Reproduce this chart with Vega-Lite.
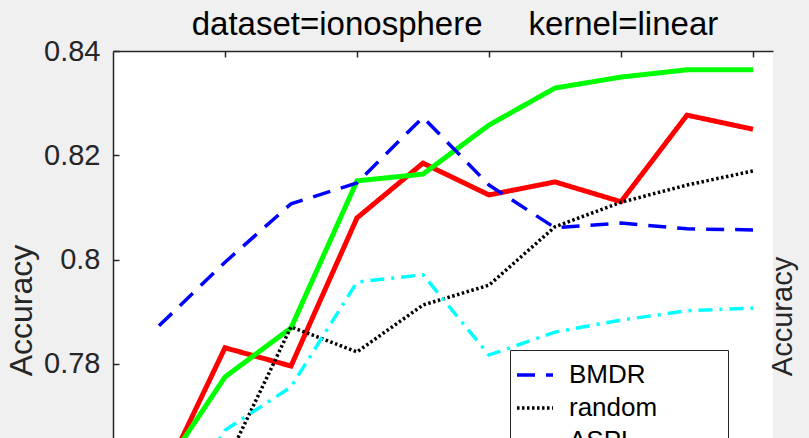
{
  "$schema": "https://vega.github.io/schema/vega-lite/v6.json",
  "width": 660,
  "height": 387,
  "autosize": {"type": "none"},
  "padding": {"left": 113, "top": 51, "right": 36, "bottom": 0},
  "background": "#f0f0f0",
  "title": {
    "text": "dataset=ionosphere\u00a0\u00a0\u00a0\u00a0 kernel=linear",
    "fontSize": 33,
    "fontWeight": "normal",
    "font": "Liberation Sans",
    "color": "#000000",
    "anchor": "middle",
    "dx": 12,
    "offset": -5
  },
  "data": {
    "values": [
      {"method": "BMDR", "x": 1, "acc": 0.7873},
      {"method": "BMDR", "x": 2, "acc": 0.7995},
      {"method": "BMDR", "x": 3, "acc": 0.8107},
      {"method": "BMDR", "x": 4, "acc": 0.8147},
      {"method": "BMDR", "x": 5, "acc": 0.8273},
      {"method": "BMDR", "x": 6, "acc": 0.8143},
      {"method": "BMDR", "x": 7, "acc": 0.8061},
      {"method": "BMDR", "x": 8, "acc": 0.8070},
      {"method": "BMDR", "x": 9, "acc": 0.8059},
      {"method": "BMDR", "x": 10, "acc": 0.8057},
      {"method": "random", "x": 1, "acc": 0.745},
      {"method": "random", "x": 2, "acc": 0.7606},
      {"method": "random", "x": 3, "acc": 0.7871},
      {"method": "random", "x": 4, "acc": 0.7823},
      {"method": "random", "x": 5, "acc": 0.7913},
      {"method": "random", "x": 6, "acc": 0.7951},
      {"method": "random", "x": 7, "acc": 0.8063},
      {"method": "random", "x": 8, "acc": 0.8110},
      {"method": "random", "x": 9, "acc": 0.8143},
      {"method": "random", "x": 10, "acc": 0.8170},
      {"method": "ASPL", "x": 1, "acc": 0.747},
      {"method": "ASPL", "x": 2, "acc": 0.7673},
      {"method": "ASPL", "x": 3, "acc": 0.7756},
      {"method": "ASPL", "x": 4, "acc": 0.7957},
      {"method": "ASPL", "x": 5, "acc": 0.7971},
      {"method": "ASPL", "x": 6, "acc": 0.7817},
      {"method": "ASPL", "x": 7, "acc": 0.7861},
      {"method": "ASPL", "x": 8, "acc": 0.7884},
      {"method": "ASPL", "x": 9, "acc": 0.7902},
      {"method": "ASPL", "x": 10, "acc": 0.7907},
      {"method": "Proposed (v1)", "x": 1, "acc": 0.7566},
      {"method": "Proposed (v1)", "x": 2, "acc": 0.7831},
      {"method": "Proposed (v1)", "x": 3, "acc": 0.7796},
      {"method": "Proposed (v1)", "x": 4, "acc": 0.8080},
      {"method": "Proposed (v1)", "x": 5, "acc": 0.8185},
      {"method": "Proposed (v1)", "x": 6, "acc": 0.8124},
      {"method": "Proposed (v1)", "x": 7, "acc": 0.8149},
      {"method": "Proposed (v1)", "x": 8, "acc": 0.8111},
      {"method": "Proposed (v1)", "x": 9, "acc": 0.8277},
      {"method": "Proposed (v1)", "x": 10, "acc": 0.8250},
      {"method": "Proposed (v2)", "x": 1, "acc": 0.7585},
      {"method": "Proposed (v2)", "x": 2, "acc": 0.7775},
      {"method": "Proposed (v2)", "x": 3, "acc": 0.7869},
      {"method": "Proposed (v2)", "x": 4, "acc": 0.8151},
      {"method": "Proposed (v2)", "x": 5, "acc": 0.8164},
      {"method": "Proposed (v2)", "x": 6, "acc": 0.8258},
      {"method": "Proposed (v2)", "x": 7, "acc": 0.8329},
      {"method": "Proposed (v2)", "x": 8, "acc": 0.8350},
      {"method": "Proposed (v2)", "x": 9, "acc": 0.8364},
      {"method": "Proposed (v2)", "x": 10, "acc": 0.8364}
    ]
  },
  "layer": [
    {
      "transform": [{"filter": "datum.method === 'Proposed (v1)' || datum.method === 'Proposed (v2)'"}],
      "mark": {"type": "line", "clip": true, "strokeWidth": 5},
      "encoding": {
        "x": {
          "field": "x", "type": "quantitative",
          "scale": {"domain": [0.303, 10.303], "nice": false, "zero": false},
          "axis": {"orient": "top", "values": [2, 4, 6, 8, 10], "labels": false, "title": null, "tickSize": -6, "tickWidth": 1.5, "domainWidth": 1.5, "grid": false}
        },
        "y": {
          "field": "acc", "type": "quantitative",
          "scale": {"domain": [0.7658, 0.84], "nice": false, "zero": false},
          "axis": {
            "orient": "left", "values": [0.78, 0.8, 0.82, 0.84], "format": "~g",
            "tickSize": -6, "tickWidth": 1.5, "domainWidth": 1.5, "grid": false,
            "labelFontSize": 29, "labelPadding": 19, "labelColor": "#262626",
            "title": "Accuracy", "titleFontSize": 32, "titleFontWeight": "normal", "titleColor": "#262626",
            "titleX": -75, "titleY": 259, "titleAngle": 270, "titleBaseline": "bottom", "titleAlign": "center"
          }
        },
        "color": {
          "field": "method", "type": "nominal",
          "scale": {"domain": ["BMDR", "random", "ASPL", "Proposed (v1)", "Proposed (v2)"], "range": ["#0000ff", "#000000", "#00ffff", "#ff0000", "#00ff00"]},
          "legend": {
            "orient": "none", "legendX": 397, "legendY": 299, "title": null,
            "symbolType": "stroke", "symbolSize": 1296, "symbolStrokeWidth": 3.5,
            "labelFontSize": 26, "labelColor": "#000000", "labelOffset": 14, "labelFont": "Liberation Sans",
            "strokeColor": "#262626", "fillColor": "#ffffff", "padding": 5, "rowPadding": 0
          }
        },
        "strokeDash": {
          "field": "method", "type": "nominal",
          "scale": {"domain": ["BMDR", "random", "ASPL", "Proposed (v1)", "Proposed (v2)"], "range": [[18, 11], [2.5, 2.5], [14, 7, 3, 7], [1, 0], [1, 0]]},
          "legend": {
            "orient": "none", "legendX": 397, "legendY": 299, "title": null,
            "symbolType": "stroke", "symbolSize": 1296, "symbolStrokeWidth": 3.5,
            "labelFontSize": 26, "labelColor": "#000000", "labelOffset": 14, "labelFont": "Liberation Sans",
            "strokeColor": "#262626", "fillColor": "#ffffff", "padding": 5, "rowPadding": 0
          }
        }
      }
    },
    {
      "transform": [{"filter": "datum.method === 'BMDR' || datum.method === 'random' || datum.method === 'ASPL'"}],
      "mark": {"type": "line", "clip": true, "strokeWidth": 3.5},
      "encoding": {
        "x": {
          "field": "x", "type": "quantitative",
          "scale": {"domain": [0.303, 10.303], "nice": false, "zero": false},
          "axis": {"orient": "top", "values": [2, 4, 6, 8, 10], "labels": false, "title": null, "tickSize": -6, "tickWidth": 1.5, "domainWidth": 1.5, "grid": false}
        },
        "y": {
          "field": "acc", "type": "quantitative",
          "scale": {"domain": [0.7658, 0.84], "nice": false, "zero": false},
          "axis": {
            "orient": "right", "labels": false, "ticks": false, "domain": false, "grid": false,
            "title": "Accuracy", "titleFontSize": 29, "titleFontWeight": "normal", "titleColor": "#262626",
            "titleX": 24, "titleY": 265, "titleAngle": 270, "titleBaseline": "bottom", "titleAlign": "center"
          }
        },
        "color": {
          "field": "method", "type": "nominal",
          "scale": {"domain": ["BMDR", "random", "ASPL", "Proposed (v1)", "Proposed (v2)"], "range": ["#0000ff", "#000000", "#00ffff", "#ff0000", "#00ff00"]}
        },
        "strokeDash": {
          "field": "method", "type": "nominal",
          "scale": {"domain": ["BMDR", "random", "ASPL", "Proposed (v1)", "Proposed (v2)"], "range": [[18, 11], [2.5, 2.5], [14, 7, 3, 7], [1, 0], [1, 0]]}
        }
      }
    }
  ],
  "resolve": {"axis": {"y": "independent"}},
  "config": {
    "font": "Liberation Sans",
    "view": {"fill": "#ffffff", "stroke": null},
    "axis": {"domainColor": "#262626", "tickColor": "#262626", "labelColor": "#262626", "grid": false}
  }
}
